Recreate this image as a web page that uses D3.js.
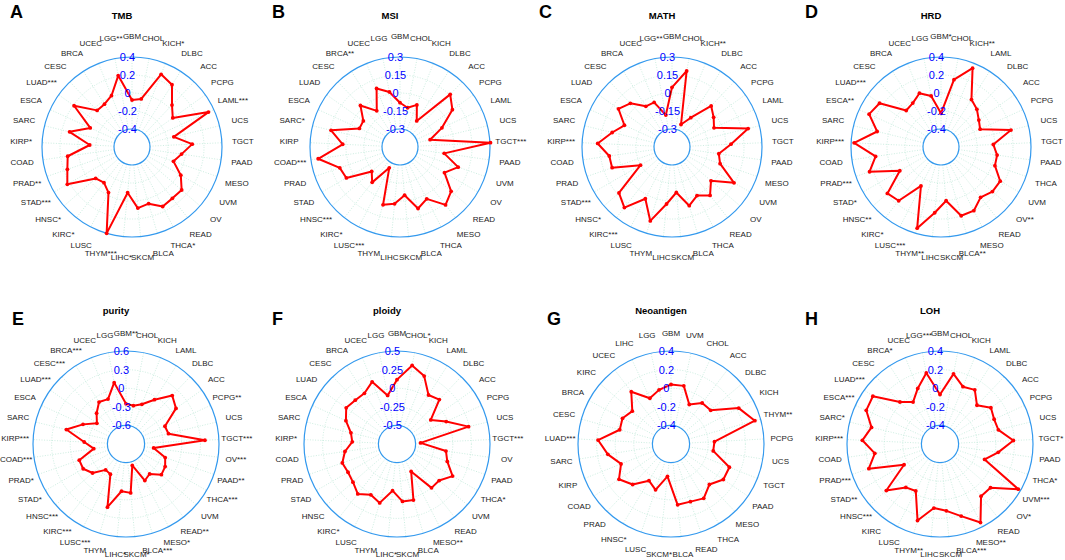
<!DOCTYPE html>
<html><head><meta charset="utf-8">
<script src="https://cdn.jsdelivr.net/npm/d3@7"></script>
<style>html,body{margin:0;padding:0;background:#fff}svg{display:block}</style>
</head><body>
<svg id="chart" width="1065" height="560"></svg>
<script>
// ---------- DATA ----------
const catsTMB = ["GBM","CHOL","KICH*","DLBC","ACC","PCPG","LAML***","UCS","TGCT","PAAD","MESO","UVM","OV","READ","THCA*","BLCA","SKCM","LIHC*","THYM***","LUSC","KIRC*","HNSC*","STAD***","PRAD**","COAD","KIRP*","SARC","ESCA","LUAD***","CESC","BRCA","UCEC","LGG**"];
const valsTMB = [-0.078,-0.056,0.27,0.222,0.044,-0.044,0.334,-0.122,0.07,-0.044,-0.112,0.026,0.13,0.126,0.144,0.056,0.082,-0.09,0.4,-0.03,-0.096,-0.066,0.23,0.16,0.122,-0.13,0.114,-0.09,0.19,-0.038,-0.034,0.014,0.208];
const ticksTMB = [0.4,0.2,0,-0.2,-0.4];

const catsMSI = ["GBM","CHOL","KICH","DLBC","ACC","PCPG","LAML","UCS","TGCT***","PAAD","UVM","OV","READ","MESO","THCA","BLCA","SKCM","LIHC","THYM","LUSC***","KIRC*","HNSC***","STAD","PRAD","COAD***","KIRP","SARC*","ESCA","LUAD","CESC","BRCA**","UCEC","LGG"];
const valsMSI = [-0.081,-0.117,-0.072,-0.192,0.156,0.086,-0.066,-0.192,0.305,-0.078,0.063,-0.022,0.114,0.164,0.036,0.084,-0.046,0.026,0.052,-0.255,-0.075,-0.138,0.066,0.081,0.239,0.028,0.141,-0.078,-0.075,0.028,-0.092,0.075,0.017];
const ticksMSI = [0.3,0.15,0,-0.15,-0.3];

const catsMATH = ["GBM","CHOL","KICH**","DLBC","ACC","PCPG","LAML","UCS","TGCT","PAAD","MESO","UVM","OV","READ","THCA","BLCA","SKCM","LIHC","THYM","LUSC","KIRC***","HNSC*","STAD***","PRAD","COAD","KIRP***","SARC","ESCA","LUAD","CESC","BRCA","UCEC","LGG**"];
const valsMATH = [0.047,0.195,-0.248,-0.16,0.023,-0.024,-0.065,0.203,0.042,-0.056,-0.026,0.147,-0.02,0.063,0.005,0.06,-0.069,0.027,0.192,0.035,0.192,0.135,-0.147,0.078,0.078,0.17,0.063,-0.014,0.098,0.053,-0.047,-0.05,-0.179];
const ticksMATH = [0.3,0.15,0,-0.15,-0.3];

const catsHRD = ["GBM*","CHOL","KICH**","LAML","DLBC","ACC","PCPG","UCS","TGCT","PAAD","THCA","UVM","OV**","READ","MESO","BLCA**","SKCM","LIHC","THYM**","LUSC***","KIRC*","HNSC**","STAD*","PRAD***","COAD","KIRP***","SARC","ESCA**","LUAD***","CESC","BRCA","UCEC","LGG"];
const valsHRD = [-0.226,0.162,0.344,0.026,-0.022,-0.084,-0.122,0.2,-0.018,0.03,0.034,0.16,0.156,0.112,0.196,0.196,0.0,0.134,0.34,-0.114,0.16,0.188,-0.072,0.24,0.134,0.366,0.13,0.278,0.238,-0.04,-0.02,0.044,-0.022];
const ticksHRD = [0.4,0.2,0,-0.2,-0.4];

const catsPurity = ["GBM**","CHOL","KICH","LAML","DLBC","ACC","PCPG**","UCS","TGCT***","OV***","PAAD**","THCA***","UVM","READ**","MESO*","BLCA***","SKCM*","LIHC*","THYM","LUSC***","KIRC***","HNSC***","STAD*","PRAD*","COAD***","KIRP***","SARC","ESCA","LUAD***","CESC***","BRCA***","UCEC","LGG"];
const valsPurity = [-0.252,-0.27,-0.21,-0.051,0.18,0.09,-0.21,-0.195,0.375,-0.45,-0.231,-0.171,-0.144,-0.285,-0.237,-0.54,-0.108,-0.135,0.162,-0.351,-0.369,-0.186,-0.102,-0.102,-0.375,-0.225,0.09,-0.138,-0.324,-0.213,-0.096,-0.12,0.108];
const ticksPurity = [0.6,0.3,0,-0.3,-0.6];

const catsPloidy = ["GBM","CHOL*","KICH","LAML","DLBC","ACC","PCPG","UCS","TGCT***","OV","PAAD","THCA*","UVM","READ","MESO**","BLCA","SKCM","LIHC*","THYM","LUSC","KIRC*","HNSC","STAD","PRAD","COAD","KIRP*","SARC","ESCA","LUAD","CESC","BRCA","UCEC","LGG"];
const valsPloidy = [0.115,0.325,0.233,0.033,0.075,-0.193,-0.023,0.24,-0.433,-0.085,-0.035,0.113,0.0,0.0,-0.335,0.035,0.025,-0.12,0.075,0.018,0.103,0.033,0.01,0.028,-0.043,-0.148,-0.113,0.005,0.088,0.063,0.06,0.15,-0.085];
const ticksPloidy = [0.5,0.25,0,-0.25,-0.5];

const catsNeo = ["GBM","UVM","CHOL","ACC","DLBC","KICH","THYM**","PCPG","UCS","TGCT","PAAD","MESO","THCA","READ","BLCA","SKCM*","LUSC","HNSC*","PRAD","COAD","KIRP","SARC","LUAD***","CESC","BRCA","KIRC","UCEC","LIHC","LGG"];
const valsNeo = [0.04,0.04,-0.132,-0.046,-0.04,0.224,0.336,-0.132,-0.14,0.076,0.08,0.0,0.082,0.054,0.058,-0.25,-0.08,-0.14,0.0,0.076,-0.022,0.088,0.186,-0.028,-0.01,-0.054,0.106,-0.058,-0.004];
const ticksNeo = [0.4,0.2,0,-0.2,-0.4];

const catsLOH = ["GBM","CHOL","KICH","LAML","DLBC","ACC","PCPG","UCS","TGCT*","PAAD","THCA*","UVM***","OV*","READ","MESO**","BLCA***","SKCM","LIHC","THYM**","LUSC","KIRC","HNSC***","STAD**","PRAD***","COAD","KIRP***","SARC*","ESCA***","LUAD***","CESC","BRCA*","UCEC","LGG***"];
const valsLOH = [-0.068,0.168,0.064,0.092,-0.024,0.072,0.04,0.046,0.19,0.032,-0.092,0.372,0.118,0.114,0.35,0.208,0.122,0.092,0.258,-0.032,-0.006,0.164,-0.154,0.21,0.108,0.236,0.158,0.272,0.286,0.024,-0.064,0.044,0.178];
const ticksLOH = [0.4,0.2,0,-0.2,-0.4];

const panelLetters = ["A","B","C","D","E","F","G","H"];
const panelTitles = ["TMB","MSI","MATH","HRD","purity","ploidy","Neoantigen","LOH"];
const panelCats = [catsTMB,catsMSI,catsMATH,catsHRD,catsPurity,catsPloidy,catsNeo,catsLOH];
const panelVals = [valsTMB,valsMSI,valsMATH,valsHRD,valsPurity,valsPloidy,valsNeo,valsLOH];
const panelTicks = [ticksTMB,ticksMSI,ticksMATH,ticksHRD,ticksPurity,ticksPloidy,ticksNeo,ticksLOH];

// ---------- LAYOUT ----------
const layout = [
  {cx:132, cy:147, R:90, lx:10,  ly:18},
  {cx:400, cy:147, R:90, lx:272, ly:18},
  {cx:672, cy:147, R:90, lx:539, ly:18},
  {cx:941, cy:147, R:90, lx:805, ly:18},
  {cx:126, cy:444, R:93, lx:12,  ly:325},
  {cx:397, cy:444, R:93, lx:272, ly:325},
  {cx:671, cy:444, R:93, lx:547, ly:325},
  {cx:940, cy:444, R:93, lx:805, ly:325}
];

const svg = d3.select("#chart");
const FONT = "'Liberation Sans', Arial, Helvetica, sans-serif";

panelLetters.forEach((letter, p) => {
  const L = layout[p];
  const cats = panelCats[p], vals = panelVals[p], ticks = panelTicks[p];
  const n = cats.length;
  const vmin = d3.min(ticks), vmax = d3.max(ticks);
  const r = d3.scaleLinear().domain([vmin, vmax]).range([0.2 * L.R, L.R]);
  const ang = d3.scaleLinear().domain([0, n]).range([0, 2 * Math.PI]);

  const g = svg.append("g").attr("transform", `translate(${L.cx},${L.cy})`);

  // panel letter & title
  svg.append("text").attr("x", L.lx).attr("y", L.ly)
    .attr("font-family", FONT).attr("font-weight", "bold").attr("font-size", 18)
    .attr("fill", "#000").text(letter);
  svg.append("text").attr("x", L.cx - 10).attr("y", p < 4 ? 19 : 314)
    .attr("text-anchor", "middle")
    .attr("font-family", FONT).attr("font-weight", "bold").attr("font-size", 9.5)
    .attr("fill", "#000").text(panelTitles[p]);

  // spokes (dotted)
  g.selectAll("line.spoke").data(d3.range(n)).join("line")
    .attr("x1", i => r(vmin) * Math.sin(ang(i)))
    .attr("y1", i => -r(vmin) * Math.cos(ang(i)))
    .attr("x2", i => r(vmax) * Math.sin(ang(i)))
    .attr("y2", i => -r(vmax) * Math.cos(ang(i)))
    .attr("stroke", "#bfe9d8").attr("stroke-width", 0.8)
    .attr("stroke-dasharray", "1,1.6");

  // inner grid rings (dotted)
  const mids = ticks.filter(t => t !== vmin && t !== vmax);
  g.selectAll("circle.grid").data(mids).join("circle")
    .attr("r", d => r(d)).attr("fill", "none")
    .attr("stroke", "#bfe9d8").attr("stroke-width", 0.8)
    .attr("stroke-dasharray", "1,1.6");

  // outer and inner rings (solid blue)
  g.selectAll("circle.edge").data([vmin, vmax]).join("circle")
    .attr("r", d => r(d)).attr("fill", "none")
    .attr("stroke", "#3399ee").attr("stroke-width", 1.2);

  // category labels
  const lr = 111;
  g.selectAll("text.cat").data(cats).join("text")
    .attr("x", (d, i) => lr * Math.sin(ang(i)))
    .attr("y", (d, i) => -lr * Math.cos(ang(i)))
    .attr("text-anchor", "middle").attr("dominant-baseline", "central")
    .attr("font-family", FONT).attr("font-size", 8).attr("fill", "#1a1a1a")
    .text(d => d);

  // data polygon
  const line = d3.lineRadial()
    .angle((d, i) => ang(i))
    .radius(d => r(d))
    .curve(d3.curveLinearClosed);
  g.append("path").datum(vals).attr("d", line)
    .attr("fill", "none").attr("stroke", "#ff0000")
    .attr("stroke-width", 2).attr("stroke-linejoin", "round");
  g.selectAll("circle.pt").data(vals).join("circle")
    .attr("cx", (d, i) => r(d) * Math.sin(ang(i)))
    .attr("cy", (d, i) => -r(d) * Math.cos(ang(i)))
    .attr("r", 1.9).attr("fill", "#ff0000");

  // tick labels (blue)
  g.selectAll("text.tick").data(ticks).join("text")
    .attr("x", -0.05 * L.R).attr("y", d => -r(d))
    .attr("text-anchor", "middle").attr("dominant-baseline", "central")
    .attr("font-family", FONT).attr("font-size", 11).attr("fill", "#0000ff")
    .text(d => d3.format("")(d).replace("−", "-"));
});
</script>
</body></html>
